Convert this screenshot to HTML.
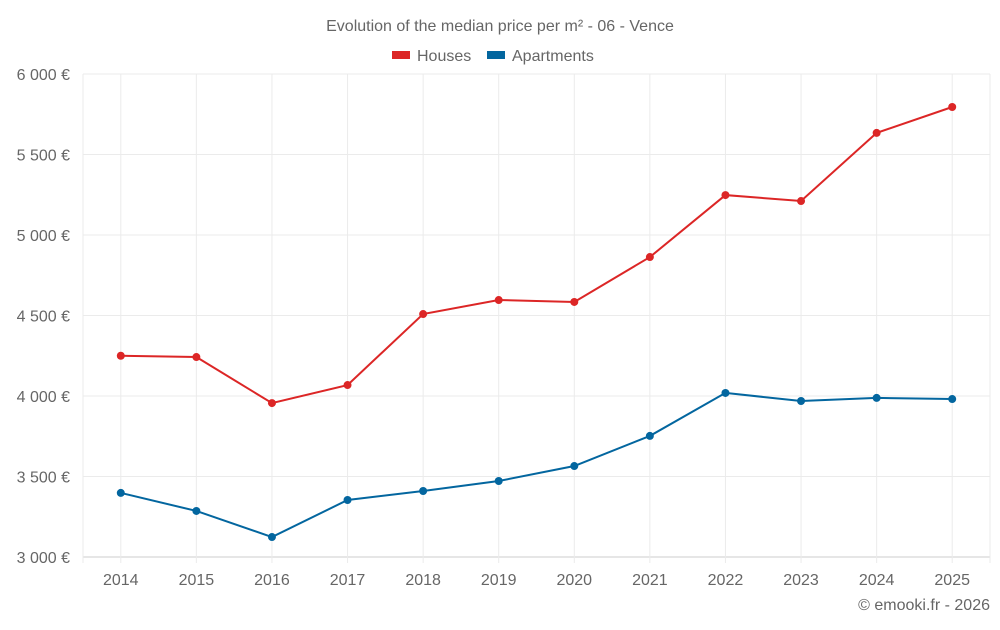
<!DOCTYPE html>
<html><head><meta charset="utf-8"><style>
body{margin:0;background:#fff;font-family:"Liberation Sans",sans-serif;}
svg text{font-family:"Liberation Sans",sans-serif;fill:#666;}
</style></head><body>
<svg id="chart" width="1000" height="625">
<text x="500" y="31" text-anchor="middle" font-size="16">Evolution of the median price per m² - 06 - Vence</text>
<g>
<rect x="392" y="51" width="18" height="8" fill="#dc2626"/>
<text x="417" y="61" font-size="16">Houses</text>
<rect x="487" y="51" width="18" height="8" fill="#03669f"/>
<text x="512" y="61" font-size="16">Apartments</text>
</g>
<g id="grid"></g><g id="axes"></g><g id="series"></g>
<text x="990" y="610" text-anchor="end" font-size="16">© emooki.fr - 2026</text>
</svg>
<script>
const years=[2014,2015,2016,2017,2018,2019,2020,2021,2022,2023,2024,2025];
const houses=[4250,4242,3956,4068,4509,4596,4584,4863,5248,5211,5634,5795];
const apartments=[3398,3286,3124,3354,3410,3472,3565,3752,4019,3969,3988,3981];
const yTicks=[3000,3500,4000,4500,5000,5500,6000];
const yTickLabels=["3 000 €","3 500 €","4 000 €","4 500 €","5 000 €","5 500 €","6 000 €"];
const L=83,R=990,T=74,B=557,ymin=3000,ymax=6000;
const bw=(R-L)/years.length;
const xs=i=>L+bw*(i+0.5);
const ys=v=>B-(v-ymin)/(ymax-ymin)*(B-T);
const NS="http://www.w3.org/2000/svg";
function mk(tag,attrs,parent){const e=document.createElementNS(NS,tag);for(const k in attrs)e.setAttribute(k,attrs[k]);parent.appendChild(e);return e;}
const grid=document.getElementById('grid'),axes=document.getElementById('axes'),ser=document.getElementById('series');
yTicks.forEach((v,i)=>{
 const l=mk('line',{x1:L,x2:R,y1:ys(v),y2:ys(v),stroke:i==0?'#ccc':'#ebebeb'},grid);
 
 
 const t=mk('text',{x:70,y:ys(v)+6,'text-anchor':'end','font-size':16},axes);
 t.textContent=yTickLabels[i];
 
 
});
[L,R].forEach(x=>{
 const l=mk('line',{x1:x,x2:x,y1:T,y2:B+6,stroke:'#ebebeb'},grid);
 
 
});
years.forEach((y,i)=>{
 const l=mk('line',{x1:xs(i),x2:xs(i),y1:T,y2:B+6,stroke:'#ebebeb'},grid);
 
 
 const t=mk('text',{x:xs(i),y:585,'text-anchor':'middle','font-size':16},axes);
 t.textContent=y;
 
 
});
function draw(vals,color,name){
 const p=mk('polyline',{points:vals.map((v,i)=>xs(i)+','+ys(v)).join(' '),fill:'none',stroke:color,'stroke-width':2},ser);
 
 
 vals.forEach((v,i)=>{
  const c=mk('circle',{cx:xs(i),cy:ys(v),r:4,fill:color},ser);
  
  
 });
}
draw(houses,'#dc2626','houses');
draw(apartments,'#03669f','apartments');
</script>
</body></html>
